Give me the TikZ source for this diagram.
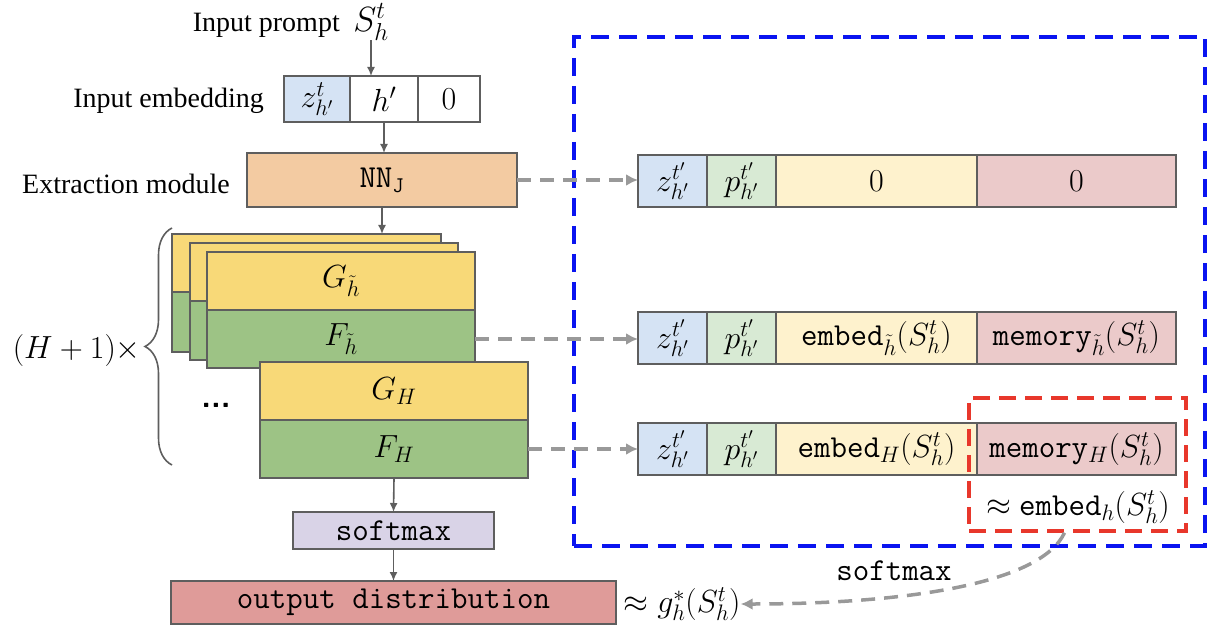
\documentclass[tikz,border=0pt]{standalone}
\usepackage{fix-cm}
\usepackage{fontspec}
\setmainfont{Liberation Serif}
\usetikzlibrary{arrows.meta,decorations.pathreplacing}
\definecolor{bord}{HTML}{5E5E5E}
\definecolor{cblue}{HTML}{D5E3F4}
\definecolor{cgreen}{HTML}{D8EAD4}
\definecolor{cyel}{HTML}{FEF2CD}
\definecolor{cpink}{HTML}{EBCACA}
\definecolor{corange}{HTML}{F3CBA2}
\definecolor{gyel}{HTML}{F8D978}
\definecolor{fgreen}{HTML}{9DC385}
\definecolor{lav}{HTML}{D9D3E7}
\definecolor{outred}{HTML}{DF9B99}
\definecolor{dgray}{HTML}{999999}
\definecolor{dred}{HTML}{E8372B}
\definecolor{dblue}{HTML}{0A14F0}
\tikzset{
  cell/.style={draw=bord,line width=1.8pt,inner sep=0pt,outer sep=0pt,rectangle},
  lbl/.style={font=\fontsize{28}{34}\selectfont,inner sep=0pt},
  arr/.style={draw=bord,line width=1.6pt,-{Latex[length=9pt,width=8pt]}},
  darr/.style={draw=dgray,line width=3.5pt,dash pattern=on 14pt off 9pt,-{Latex[length=12pt,width=12pt]}},
  ttl/.style={font=\fontsize{32}{38}\selectfont\ttfamily},
}
\begin{document}
\begin{tikzpicture}[x=1pt,y=-1pt,font=\fontsize{32}{38}\selectfont]
\useasboundingbox (0,0) rectangle (1225,628);
% blue region
\node[draw=dblue,line width=4pt,dash pattern=on 18pt off 10pt,minimum width=631pt,minimum height=509pt,inner sep=0pt] (bluebox) at (889.5,291.5) {};
% input prompt
\node[lbl,anchor=base east] (ip) at (340,32) {Input prompt};
\node[inner sep=0pt,font=\fontsize{35}{40}\selectfont] (S) at (371,22) {$S_h^t$};
% input embedding
\node[lbl,anchor=east] (ielbl) at (264,101) {Input embedding};
\node[cell,fill=cblue,minimum width=66pt,minimum height=46pt] (emb1) at (317,99) {$z_{h'}^{t}$};
\node[cell,fill=white,minimum width=68pt,minimum height=46pt] (emb2) at (384,99) {$h'$};
\node[cell,fill=white,minimum width=62pt,minimum height=46pt] (emb3) at (449,99) {$0$};
% extraction
\node[lbl,anchor=east] (exlbl) at (230,184) {Extraction module};
\node[cell,fill=corange,minimum width=270pt,minimum height=54pt] (NN) at (382,180) {\texttt{NN}$_{\mathtt{J}}$};
% stacked layers
\node[cell,fill=gyel,minimum width=269pt,minimum height=58pt] (L1G) at (306.5,263) {};
\node[cell,fill=fgreen,minimum width=269pt,minimum height=60pt] (L1F) at (306.5,322) {};
\node[cell,fill=gyel,minimum width=268pt,minimum height=58pt] (L2G) at (324,272) {};
\node[cell,fill=fgreen,minimum width=268pt,minimum height=59pt] (L2F) at (324,330.5) {};
\node[cell,fill=gyel,minimum width=268pt,minimum height=58pt] (L3G) at (341,281) {$G_{\tilde h}$};
\node[cell,fill=fgreen,minimum width=268pt,minimum height=58pt] (L3F) at (341,339) {$F_{\tilde h}$};
\node[cell,fill=gyel,minimum width=268pt,minimum height=58pt] (LHG) at (394,391) {$G_H$};
\node[cell,fill=fgreen,minimum width=268pt,minimum height=58pt] (LHF) at (394,449) {$F_H$};
\node[font=\fontsize{32}{36}\selectfont\sffamily\bfseries,inner sep=0pt] (dots) at (216,405) {...};
% brace
\draw[bord,line width=1.6pt,decorate,decoration={brace,amplitude=27pt}] (172,465) -- (172,228);
\node[inner sep=0pt,anchor=east] (rep) at (141,350) {$(H+1)\times$};
% softmax + output
\node[cell,fill=lav,minimum width=201pt,minimum height=37pt,ttl] (sm) at (393.5,530.5) {softmax};
\node[cell,fill=outred,minimum width=445pt,minimum height=43pt,ttl] (out) at (393.5,602.5) {output distribution};
% rows
\node[cell,fill=cblue,minimum width=69pt,minimum height=52pt] (r1a) at (672.5,181) {$z_{h'}^{t'}$};
\node[cell,fill=cgreen,minimum width=69pt,minimum height=52pt] (r1b) at (741.5,181) {$p_{h'}^{t'}$};
\node[cell,fill=cyel,minimum width=201pt,minimum height=52pt] (r1c) at (876.5,181) {$0$};
\node[cell,fill=cpink,minimum width=199pt,minimum height=52pt] (r1d) at (1076.5,181) {$0$};
\node[cell,fill=cblue,minimum width=69pt,minimum height=52pt] (r2a) at (672.5,338) {$z_{h'}^{t'}$};
\node[cell,fill=cgreen,minimum width=69pt,minimum height=52pt] (r2b) at (741.5,338) {$p_{h'}^{t'}$};
\node[cell,fill=cyel,minimum width=201pt,minimum height=52pt] (r2c) at (876.5,338) {\texttt{embed}$_{\tilde h}(S_h^t)$};
\node[cell,fill=cpink,minimum width=199pt,minimum height=52pt] (r2d) at (1076.5,338) {\texttt{memory}$_{\tilde h}(S_h^t)$};
\node[cell,fill=cblue,minimum width=69pt,minimum height=52pt] (r3a) at (672.5,449) {$z_{h'}^{t'}$};
\node[cell,fill=cgreen,minimum width=69pt,minimum height=52pt] (r3b) at (741.5,449) {$p_{h'}^{t'}$};
\node[cell,fill=cyel,minimum width=201pt,minimum height=52pt] (r3c) at (876.5,449) {\texttt{embed}$_{H}(S_h^t)$};
\node[cell,fill=cpink,minimum width=199pt,minimum height=52pt] (r3d) at (1076.5,449) {\texttt{memory}$_{H}(S_h^t)$};
% red box
\node[draw=dred,line width=3.5pt,dash pattern=on 17pt off 9pt,minimum width=217pt,minimum height=133pt,inner sep=0pt] (redbox) at (1077.5,464.5) {};
\node[inner sep=0pt] (approx) at (1078,507) {$\approx$ \texttt{embed}$_h(S_h^t)$};
\node[inner sep=0pt] (gstar) at (682,604) {$\approx g_h^*(S_h^t)$};
\node[ttl,inner sep=0pt] (smlbl) at (894,571) {softmax};
% arrows
\draw[arr] (S.south) -- (S.south |- emb2.north);
\draw[arr] (emb2.south) -- (emb2.south |- NN.north);
\draw[arr] (NN.south) -- (NN.south |- L1G.north);
\draw[arr] (LHF.south) -- (sm.north);
\draw[arr] (sm.south) -- (out.north);
\draw[darr] (NN.east) -- (NN.east -| r1a.west);
\draw[darr] (L3F.east) -- (L3F.east -| r2a.west);
\draw[darr] (LHF.east) -- (r3a.west);
\draw[darr] ([xshift=-13pt]redbox.south) .. controls (1040,585) and (900,604) .. (gstar.east);
\end{tikzpicture}
\end{document}
